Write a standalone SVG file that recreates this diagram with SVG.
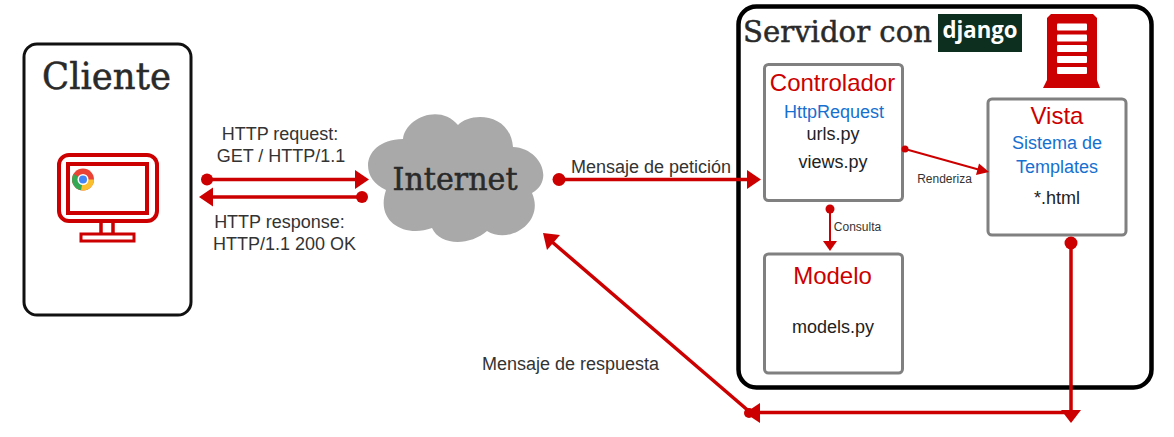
<svg xmlns="http://www.w3.org/2000/svg" width="1174" height="437" viewBox="0 0 1174 437">
<style>
text{font-family:"Liberation Sans",Arial,sans-serif;fill:#333;text-anchor:middle}
.serif{font-family:"DejaVu Serif","Liberation Serif",serif;fill:#2a2a2a;stroke:#2a2a2a;stroke-width:.5}
.title{fill:#cc0000;font-size:24px}
.blue{fill:#1670d0;font-size:18px}
.body{fill:#222;font-size:18px}
.lab{font-size:18px}
.small{font-size:12px}
.box{fill:#fff;stroke:#808080;stroke-width:3}
.red{fill:#cc0000}
.ln{fill:none;stroke:#cc0000}
</style>
<rect width="1174" height="437" fill="#fff"/>
<g id="cliente">
<rect x="24" y="44" width="167" height="271" rx="13" fill="#fff" stroke="#111" stroke-width="3"/>
<text class="serif" x="106.500" y="89" font-size="37" textLength="129" lengthAdjust="spacingAndGlyphs">Cliente</text>
<g fill="none" stroke="#cc0000">
<rect x="59" y="155" width="98" height="66" rx="10" stroke-width="4"/>
<rect x="68" y="164" width="79" height="49" stroke-width="4"/>
<path d="M101 223V234M113 223V234" stroke-width="3.500"/>
<rect x="81" y="234" width="53" height="7" stroke-width="3"/>
</g>
<rect x="72" y="168" width="24" height="24" fill="#fff"/>
<circle cx="83" cy="179.500" r="11" fill="#ea4335"/>
<path d="M83 179.500L73.500 174A11 11 0 0 0 81 190.300Z" fill="#34a853"/>
<path d="M83 179.500L81 190.300A11 11 0 0 0 94 179.500Z" fill="#fbc02d"/>
<circle cx="83" cy="179.500" r="5.500" fill="#fff"/>
<circle cx="83" cy="179.500" r="4" fill="#4285f4"/>
</g>
<g id="internet">
<path fill="#a9a9a9" d="M403 139C405 118 440 103 458 125C470 112 510 112 513 147C540 148 555 180 532 193C545 222 510 245 487 231C470 246 440 246 432 228C405 238 375 222 386 190C358 178 362 140 403 139Z"/>
<text class="serif" x="455" y="190" font-size="31" textLength="125" lengthAdjust="spacingAndGlyphs">Internet</text>
</g>
<g id="servidor">
<rect x="738.500" y="6.500" width="413" height="381" rx="18" fill="#fff" stroke="#000" stroke-width="4.500"/>
<text class="serif" x="837.500" y="42" font-size="30" textLength="189" lengthAdjust="spacingAndGlyphs">Servidor con</text>
<rect x="938" y="14" width="84" height="38" fill="#0c2f20"/>
<text x="980" y="38" font-size="23" font-weight="bold" style="font-family:'Open Sans',sans-serif;fill:#fff" textLength="75" lengthAdjust="spacingAndGlyphs">django</text>
<path class="red" d="M1051 14H1093L1097 18V80L1100 88H1043L1047 80V18Z"/>
<g fill="#fff"><rect x="1057" y="23.500" width="30" height="7" rx="1"/><rect x="1057" y="34.500" width="30" height="7" rx="1"/><rect x="1057" y="45" width="30" height="7" rx="1"/><rect x="1057" y="56" width="30" height="7" rx="1"/><rect x="1057" y="67" width="30" height="7" rx="1"/></g>
</g>
<g id="controlador">
<rect class="box" x="764.500" y="64.500" width="138" height="136" rx="4"/>
<text class="title" x="832.500" y="91">Controlador</text>
<text class="blue" x="834" y="118">HttpRequest</text>
<text class="body" x="833" y="140">urls.py</text>
<text class="body" x="833" y="168">views.py</text>
</g>
<g id="vista">
<rect class="box" x="988" y="99" width="138" height="136" rx="4"/>
<text class="title" x="1057" y="124">Vista</text>
<text class="blue" x="1057" y="149">Sistema de</text>
<text class="blue" x="1057" y="173">Templates</text>
<text class="body" x="1057" y="204">*.html</text>
</g>
<g id="modelo">
<rect class="box" x="764.500" y="254" width="138" height="119" rx="4"/>
<text class="title" x="832.500" y="284">Modelo</text>
<text class="body" x="833" y="333">models.py</text>
</g>
<g id="connectors">
<g class="red">
<circle cx="207" cy="179.500" r="6"/><path d="M355 170L369 179.500L355 189Z"/>
<circle cx="362" cy="197" r="6"/><path d="M213 187.500L199 197L213 206.500Z"/>
<circle cx="559" cy="179.500" r="6.500"/><path d="M747 170L761 179.500L747 189Z"/>
<circle cx="905" cy="149" r="3.500"/><path d="M979 163.500L989 172L976 175Z"/>
<circle cx="830" cy="209" r="4.500"/><path d="M823 241H837L830 251Z"/>
<circle cx="1071" cy="243" r="6.500"/><path d="M1061 410H1081L1071 423Z"/>
<path d="M760 403V423L745 413Z"/><circle cx="749" cy="413" r="5"/>
<path d="M543 233L560 235L547 250Z"/>
</g>
<path class="ln" stroke-width="3.500" d="M207 179.500H358M362 197H210"/>
<path class="ln" stroke-width="3.500" d="M559 179.500H750"/>
<path class="ln" stroke-width="2" d="M905 149L982 170.500M830 209V243"/>
<path class="ln" stroke-width="3.500" d="M1071 243V414M1071 412.500H752M751 413L551 241"/>
</g>
<g id="labels">
<text class="lab" x="280" y="140">HTTP request:</text>
<text class="lab" x="281" y="162">GET / HTTP/1.1</text>
<text class="lab" x="279.500" y="228">HTTP response:</text>
<text class="lab" x="284.500" y="250">HTTP/1.1 200 OK</text>
<text class="lab" x="651" y="173">Mensaje de petición</text>
<text class="lab" x="570.500" y="370">Mensaje de respuesta</text>
<text class="small" x="944.500" y="183">Renderiza</text>
<text class="small" x="857.500" y="231">Consulta</text>
</g>
</svg>
